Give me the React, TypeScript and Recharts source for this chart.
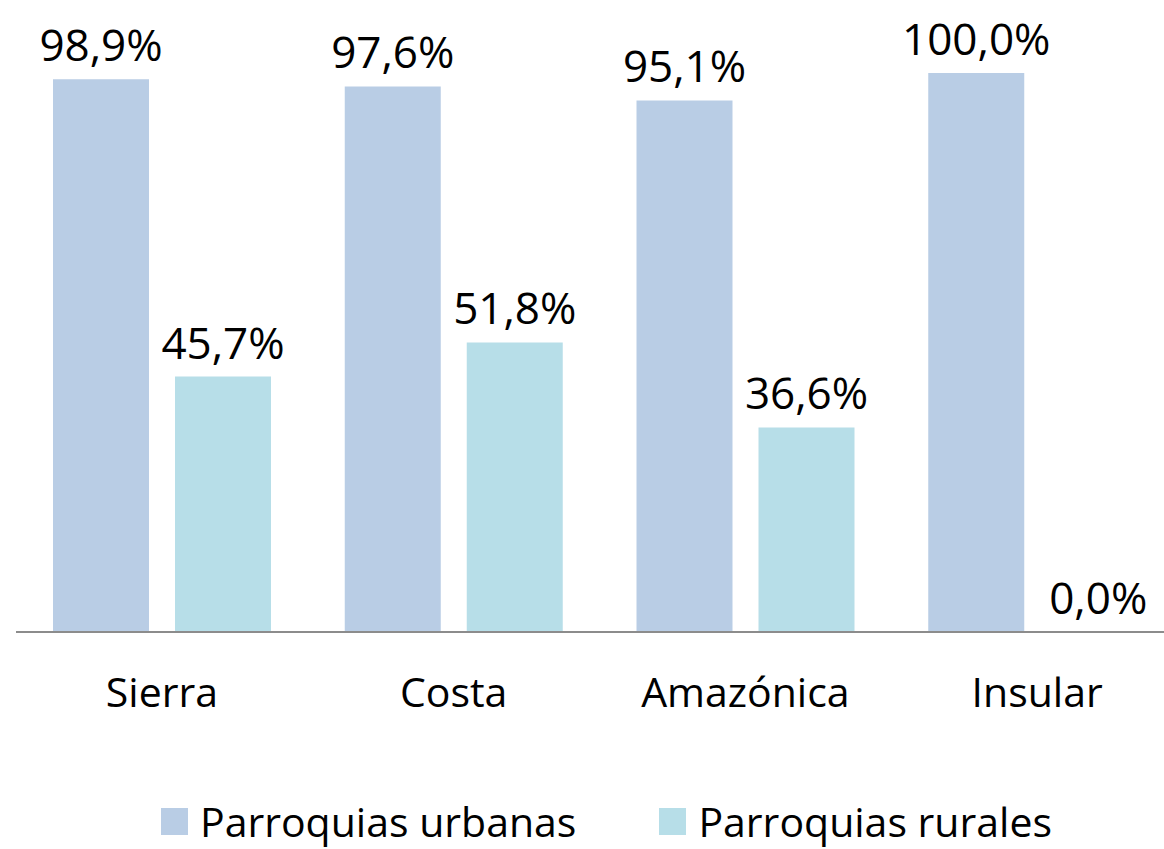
import { BarChart, Bar, XAxis, YAxis, Legend, LabelList } from "recharts";

const regiones = ["Sierra", "Costa", "Amazónica", "Insular"];
const urbanas = [98.9, 97.6, 95.1, 100.0];
const rurales = [45.7, 51.8, 36.6, 0.0];

const COLOR_URB = "#B9CDE5";
const COLOR_RUR = "#B7DEE8";
const FONT = "'Open Sans', 'Noto Sans', sans-serif";

const data = regiones.map((r, i) => ({
  region: r,
  urbanas: urbanas[i],
  rurales: rurales[i],
}));

const pct = (v: unknown) => `${Number(v).toFixed(1).replace(".", ",")}%`;

const labelStyle = { fontSize: 44, fill: "#000", fontFamily: FONT };

function LegendBox() {
  const items = [
    { name: "Parroquias urbanas", color: COLOR_URB },
    { name: "Parroquias rurales", color: COLOR_RUR },
  ];
  return (
    <div style={{ display: "flex", height: 97, alignItems: "flex-end" }}>
      {items.map((it, i) => (
        <div
          key={it.name}
          style={{
            display: "flex",
            alignItems: "center",
            marginLeft: i === 0 ? 161 : 83,
            marginBottom: 6,
            fontFamily: FONT,
            fontSize: 41,
            color: "#000",
            lineHeight: "44px",
          }}
        >
          <span style={{ width: 27, height: 27, background: it.color, marginRight: 12 }} />
          {it.name}
        </div>
      ))}
    </div>
  );
}

export default function App() {
  return (
    <div
      style={{
        position: "absolute",
        left: 0,
        top: 0,
        width: 1164,
        height: 849,
        overflow: "hidden",
        background: "#fff",
      }}
    >
      <BarChart
        width={1184}
        height={849}
        data={data}
        margin={{ top: 73, right: 1, bottom: 0, left: 16 }}
        barGap={26}
        barSize={96}
      >
        <XAxis
          dataKey="region"
          height={120}
          tickLine={false}
          tickSize={0}
          tickMargin={46}
          axisLine={{ stroke: "#8C8C8C", strokeWidth: 2 }}
          tick={{ fontSize: 41, fill: "#000", fontFamily: FONT }}
        />
        <YAxis hide domain={[0, 100]} />
        <Legend
          verticalAlign="bottom"
          align="left"
          height={97}
          wrapperStyle={{ left: 0, width: 1164 }}
          content={() => <LegendBox />}
        />
        <Bar dataKey="urbanas" fill={COLOR_URB} isAnimationActive={false}>
          <LabelList
            dataKey="urbanas"
            position="top"
            offset={18}
            formatter={pct}
            style={labelStyle}
          />
        </Bar>
        <Bar
          dataKey="rurales"
          fill={COLOR_RUR}
          minPointSize={0.001}
          isAnimationActive={false}
        >
          <LabelList
            dataKey="rurales"
            position="top"
            offset={18}
            formatter={pct}
            style={labelStyle}
          />
        </Bar>
      </BarChart>
    </div>
  );
}
